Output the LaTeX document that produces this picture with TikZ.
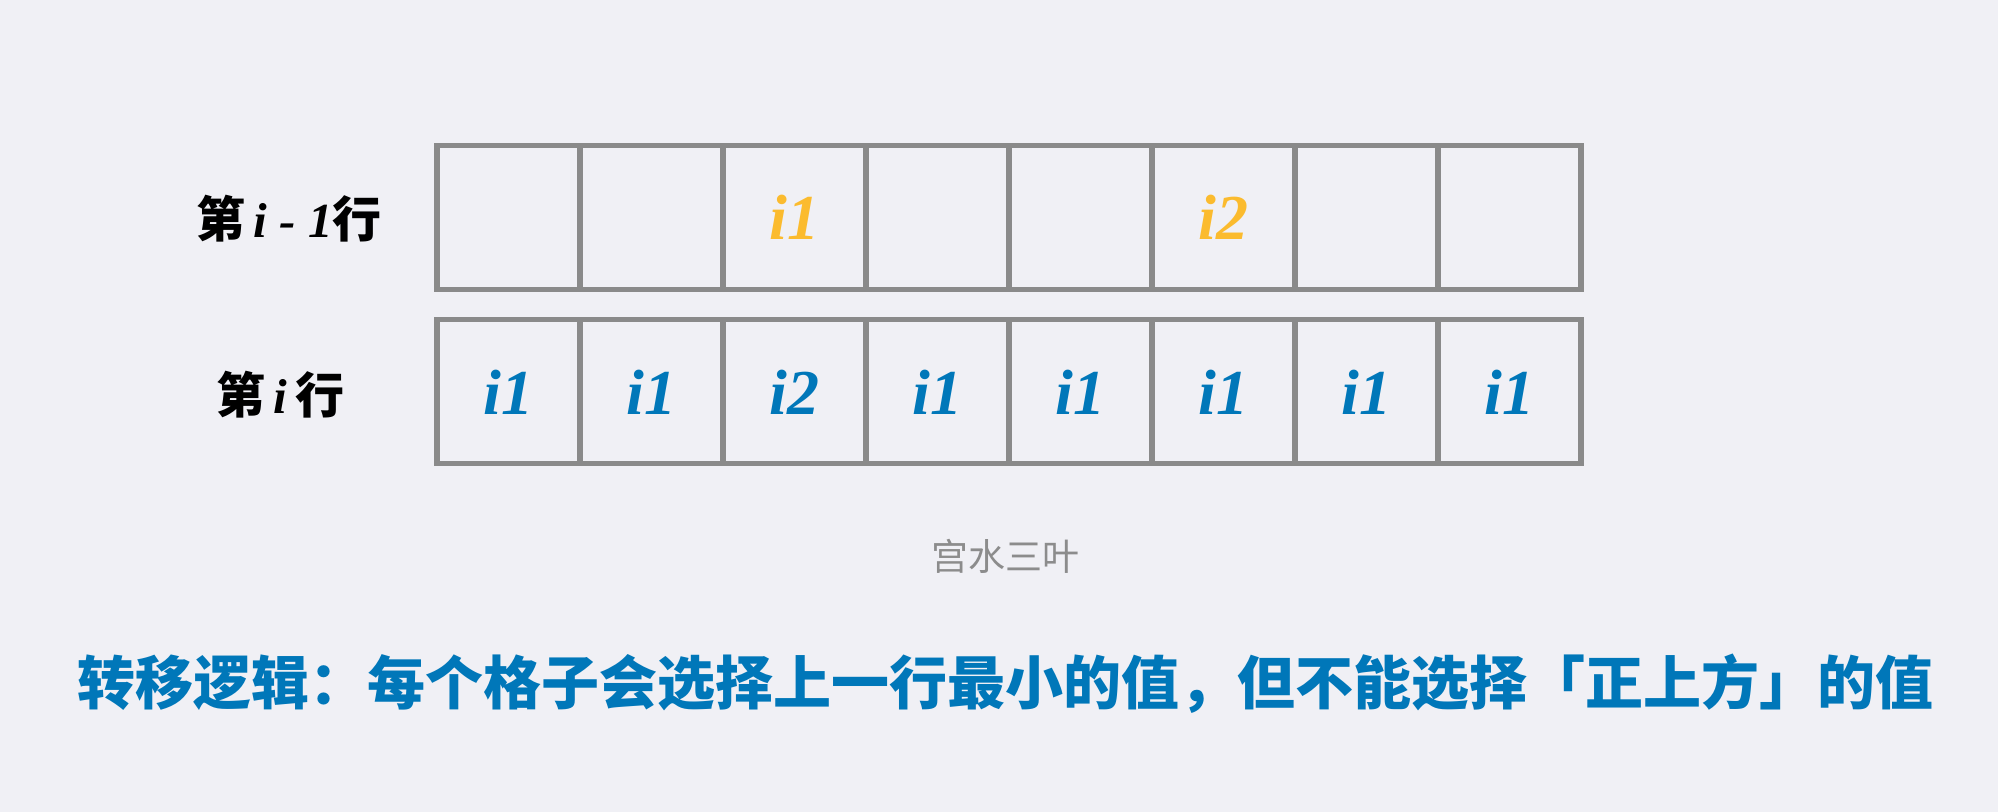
\documentclass[tikz,border=0pt]{standalone}
\usepackage{fontspec}
\setmainfont{Liberation Serif}
\newfontfamily\cjk{Noto Sans CJK SC}
\definecolor{bg}{RGB}{240,240,245}
\definecolor{cellline}{RGB}{138,138,138}
\definecolor{blu}{RGB}{0,119,185}
\definecolor{org}{RGB}{251,187,46}
\definecolor{wm}{RGB}{140,140,140}
\tikzset{
  cell/.style={draw=cellline, line width=2.6pt, minimum width=71.5pt, minimum height=72pt, inner sep=0pt},
  celltxt/.style={font=\fontsize{32}{36}\selectfont\bfseries\itshape},
  rowlabel/.style={anchor=east, inner sep=0pt, font=\fontsize{24.5}{30}\selectfont\bfseries},
}
\begin{document}
\begin{tikzpicture}[x=0.5pt,y=-0.5pt]
\useasboundingbox[fill=bg] (0,0) rectangle (1998,812);
\foreach \i in {0,...,7} {
  \node[cell] (a\i) at (508.5+143*\i,217.3) {};
  \node[cell] (b\i) at (508.5+143*\i,391.8) {};
}
\node[celltxt, text=org] (t2) at (a2) {i1};
\node[celltxt, text=org] (t5) at (a5) {i2};
\foreach \i/\v in {0/i1,1/i1,2/i2,3/i1,4/i1,5/i1,6/i1,7/i1} {
  \node[celltxt, text=blu] (u\i) at (b\i) {\v};
}
\node[rowlabel] (l1) at (382,219) {{\cjk 第}\,{\itshape i - 1}{\cjk 行}};
\node[rowlabel] (l2) at (345,395) {{\cjk 第}\,{\itshape i}\,{\cjk 行}};
\node[text=wm, font=\cjk\fontsize{18.5}{22}\selectfont] (wm) at (1005,556) {宫水三叶};
\node[text=blu, font=\cjk\bfseries\fontsize{29}{34}\selectfont] (cap) at (1005,684) {转移逻辑：每个格子会选择上一行最小的值，但不能选择「正上方」的值};
\end{tikzpicture}
\end{document}
